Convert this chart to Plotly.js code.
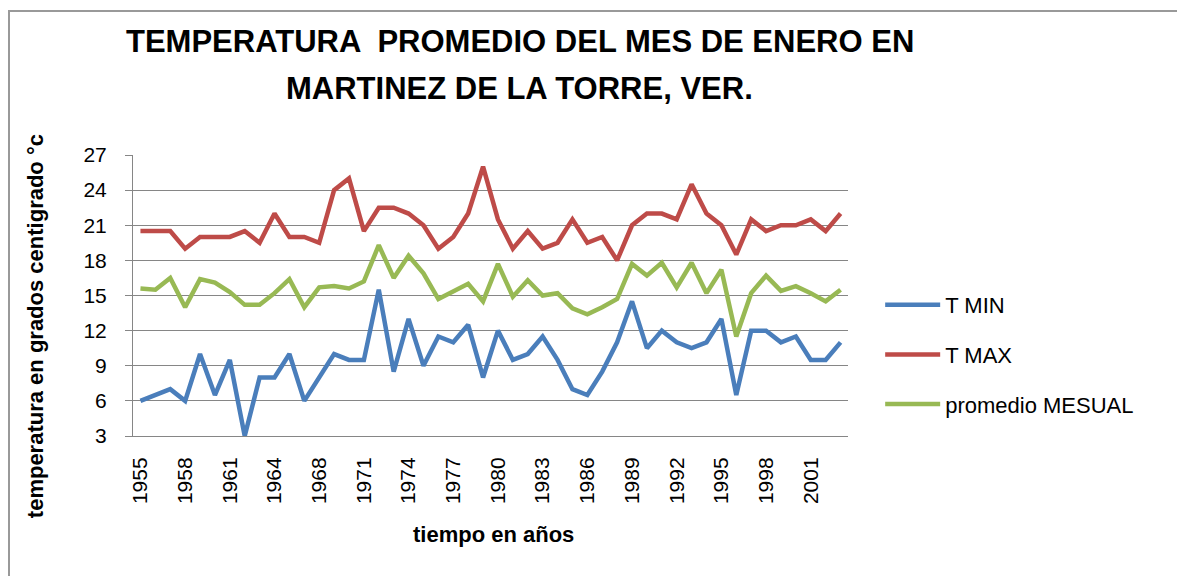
<!DOCTYPE html>
<html>
<head>
<meta charset="utf-8">
<script src="https://cdn.plot.ly/plotly-3.0.1.min.js"></script>
<style>
  body { margin: 0; overflow: hidden; background: #fff; }
  #myPlot { position: absolute; left: 0; top: 0; width: 1177px; height: 576px; }
  #frame { position: absolute; left: 8px; top: 10px; width: 1300px; height: 700px;
           border-left: 2px solid #999; border-top: 2px solid #999; pointer-events: none; }
</style>
</head>
<body>
<div id="myPlot"></div>
<div id="frame"></div>
<script>
// one year between 1964 and 1968 is missing in the source data
const years = ["1955","1956","1957","1958","1959","1960","1961","1962","1963","1964",
  "1965","1966","1968","1969","1970","1971","1972","1973","1974","1975",
  "1976","1977","1978","1979","1980","1981","1982","1983","1984","1985",
  "1986","1987","1988","1989","1990","1991","1992","1993","1994","1995",
  "1996","1997","1998","1999","2000","2001","2002","2003"];

const tMin = [6, 6.5, 7, 6, 10, 6.5, 9.5, 3, 8, 8,
  10, 6, 8, 10, 9.5, 9.5, 15.5, 8.5, 13, 9,
  11.5, 11, 12.5, 8, 12, 9.5, 10, 11.5, 9.5, 7,
  6.5, 8.5, 11, 14.5, 10.5, 12, 11, 10.5, 11, 13,
  6.5, 12, 12, 11, 11.5, 9.5, 9.5, 11];

const tMax = [20.5, 20.5, 20.5, 19, 20, 20, 20, 20.5, 19.5, 22,
  20, 20, 19.5, 24, 25, 20.5, 22.5, 22.5, 22, 21,
  19, 20, 22, 26, 21.5, 19, 20.5, 19, 19.5, 21.5,
  19.5, 20, 18, 21, 22, 22, 21.5, 24.5, 22, 21,
  18.5, 21.5, 20.5, 21, 21, 21.5, 20.5, 22];

const promedio = [15.6, 15.5, 16.5, 14, 16.4, 16.1, 15.3, 14.2, 14.2, 15.2,
  16.4, 14, 15.7, 15.8, 15.6, 16.2, 19.3, 16.5, 18.4, 16.9,
  14.7, 15.3, 16, 14.5, 17.7, 14.9, 16.3, 15, 15.2, 13.9,
  13.4, 14, 14.7, 17.7, 16.7, 17.8, 15.7, 17.8, 15.2, 17.2,
  11.5, 15.2, 16.7, 15.4, 15.8, 15.2, 14.5, 15.5];

const yearTicks = ["1955","1958","1961","1964","1968","1971","1974","1977",
  "1980","1983","1986","1989","1992","1995","1998","2001"];

const font = "'Liberation Sans', Arial, sans-serif";
const grid = "#868686";

const data = [
  {x: years, y: tMin, name: "T MIN", mode: "lines", legendgroup: "a",
   line: {color: "#4a7ebb", width: 4.5}},
  {x: years, y: tMax, name: "T MAX", mode: "lines", legendgroup: "b",
   line: {color: "#be4b48", width: 4.5}},
  {x: years, y: promedio, name: "promedio MESUAL", mode: "lines", legendgroup: "c",
   line: {color: "#98b954", width: 4.5}}
];

const layout = {
  width: 1177, height: 576,
  margin: {l: 133, r: 329, t: 155, b: 140},
  paper_bgcolor: "#fff", plot_bgcolor: "#fff",
  font: {family: font, color: "#000"},
  showlegend: true,
  legend: {x: 1.045, xanchor: "left", y: 0.29, yanchor: "middle", itemwidth: 55,
    font: {size: 22, color: "#000"}, traceorder: "grouped", tracegroupgap: 18,
    bgcolor: "rgba(0,0,0,0)"},
  xaxis: {type: "category", range: [-0.5, 47.5], tickmode: "array", tickvals: yearTicks,
    tickangle: -90, tickfont: {size: 21}, showgrid: false, showline: true,
    linecolor: grid, linewidth: 1, ticks: "", ticklabelstandoff: 12, fixedrange: true},
  yaxis: {range: [3, 27], dtick: 3, tick0: 3, showgrid: true, gridcolor: grid, gridwidth: 1,
    showline: true, linecolor: grid, linewidth: 1, ticks: "outside", ticklen: 7,
    tickcolor: grid, tickfont: {size: 21}, ticklabelstandoff: 14, zeroline: false,
    fixedrange: true},
  annotations: [
    {text: "<b>TEMPERATURA  PROMEDIO DEL MES DE ENERO EN</b>", xref: "paper", yref: "paper",
     x: 0.541, y: 1.405, xanchor: "center", yanchor: "middle", showarrow: false, font: {size: 31}},
    {text: "<b>MARTINEZ DE LA TORRE, VER.</b>", xref: "paper", yref: "paper",
     x: 0.541, y: 1.235, xanchor: "center", yanchor: "middle", showarrow: false, font: {size: 31}},
    {text: "<b>temperatura en grados centigrado °c</b>", xref: "paper", yref: "paper",
     x: -0.137, y: 0.391, xanchor: "center", yanchor: "middle", textangle: -90,
     showarrow: false, font: {size: 22}},
    {text: "<b>tiempo en años</b>", xref: "paper", yref: "paper",
     x: 0.5035, y: -0.352, xanchor: "center", yanchor: "middle", showarrow: false, font: {size: 22}}
  ]
};

Plotly.newPlot("myPlot", data, layout, {staticPlot: true});
</script>
</body>
</html>
